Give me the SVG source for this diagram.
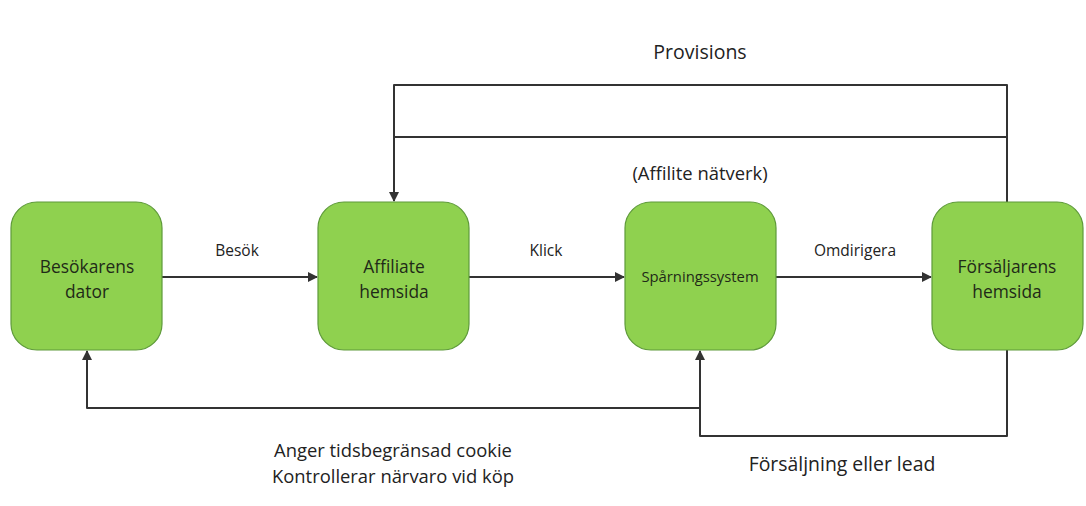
<svg xmlns="http://www.w3.org/2000/svg" width="1086" height="506" viewBox="0 0 1086 506">
  <style>
    .box { fill: #8fd14f; stroke: #5e9a3a; stroke-width: 1.2; }
    .nt { font-family: "Open Sans", "Liberation Sans", sans-serif; font-size: 17.4px; fill: #1f2a18; text-anchor: middle; }
    .nts { font-family: "Open Sans", "Liberation Sans", sans-serif; font-size: 14.8px; fill: #1f2a18; text-anchor: middle; }
    .lbl { font-family: "Open Sans", "Liberation Sans", sans-serif; font-size: 15.5px; fill: #222; text-anchor: middle; }
    .big { font-family: "Open Sans", "Liberation Sans", sans-serif; font-size: 18.4px; fill: #222; text-anchor: middle; }
    .wire { fill: none; stroke: #333; stroke-width: 2; stroke-linejoin: round; }
  </style>
  <defs>
    <marker id="arrow" viewBox="0 0 10 10" refX="9" refY="5" markerWidth="5" markerHeight="5" orient="auto" markerUnits="strokeWidth">
      <path d="M0,0 L10,5 L0,10 z" fill="#333"/>
    </marker>
  </defs>
  <rect width="1086" height="506" fill="#ffffff"/>

  <g id="connectors">
    <line class="wire" x1="162" y1="277" x2="317" y2="277" marker-end="url(#arrow)"/>
    <line class="wire" x1="469" y1="277" x2="624" y2="277" marker-end="url(#arrow)"/>
    <line class="wire" x1="776" y1="277" x2="931" y2="277" marker-end="url(#arrow)"/>
    <!-- provisions loop -->
    <polyline class="wire" points="1007,202 1007,85 394,85 394,201" marker-end="url(#arrow)"/>
    <line class="wire" x1="394" y1="137" x2="1007" y2="137"/>
    <!-- cookie return -->
    <polyline class="wire" points="700,408 87,408 87,351" marker-end="url(#arrow)"/>
    <!-- sale / lead -->
    <polyline class="wire" points="1007,350 1007,436 700,436 700,351" marker-end="url(#arrow)"/>
  </g>

  <g id="node-besokare">
    <rect class="box" x="11" y="202" width="151" height="148" rx="26"/>
    <text class="nt" x="87" y="273">Besökarens</text>
    <text class="nt" x="87" y="298">dator</text>
  </g>
  <g id="node-affiliate">
    <rect class="box" x="318" y="202" width="151" height="148" rx="26"/>
    <text class="nt" x="394" y="273">Affiliate</text>
    <text class="nt" x="394" y="298">hemsida</text>
  </g>
  <g id="node-sparning">
    <rect class="box" x="625" y="202" width="151" height="148" rx="26"/>
    <text class="nts" x="700" y="282">Spårningssystem</text>
  </g>
  <g id="node-forsaljare">
    <rect class="box" x="932" y="202" width="151" height="148" rx="26"/>
    <text class="nt" x="1007" y="273">Försäljarens</text>
    <text class="nt" x="1007" y="298">hemsida</text>
  </g>

  <g id="labels">
    <text class="lbl" x="237" y="256">Besök</text>
    <text class="lbl" x="546" y="256">Klick</text>
    <text class="lbl" x="855" y="256">Omdirigera</text>
    <text class="big" x="700" y="59" style="font-size:19.5px">Provisions</text>
    <text class="big" x="700" y="180">(Affilite nätverk)</text>
    <text class="big" x="393" y="457">Anger tidsbegränsad cookie</text>
    <text class="big" x="393" y="483">Kontrollerar närvaro vid köp</text>
    <text class="big" x="842" y="471" style="font-size:19.4px">Försäljning eller lead</text>
  </g>
</svg>
